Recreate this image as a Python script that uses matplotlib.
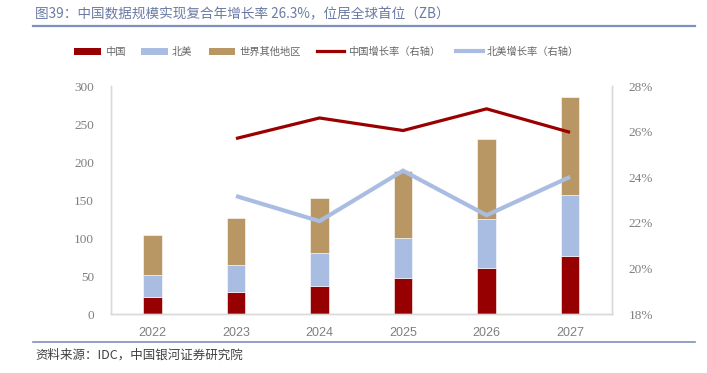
import matplotlib
matplotlib.use("Agg")
import matplotlib.pyplot as plt
from matplotlib.lines import Line2D
from matplotlib.patches import Patch
import numpy as np

years = ["2022", "2023", "2024", "2025", "2026", "2027"]
china = [23.1, 29.7, 37.6, 47.7, 60.4, 76.2]
north_america = [28.5, 35.1, 42.9, 53.0, 64.8, 80.6]
rest_world = [52.2, 61.7, 72.8, 88.0, 105.6, 128.3]
china_growth = [None, 25.7, 26.6, 26.05, 27.0, 25.97]
na_growth = [None, 23.18, 22.08, 24.29, 22.34, 24.02]

title = "图39：中国数据规模实现复合年增长率 26.3%，位居全球首位（ZB）"
source = "资料来源：IDC，中国银河证券研究院"
legend_labels = ["中国", "北美", "世界其他地区", "中国增长率（右轴）", "北美增长率（右轴）"]

plt.rcParams['font.family'] = ['Noto Sans CJK SC', 'DejaVu Sans']

c_red = "#960000"
c_blue = "#a9bde3"
c_tan = "#b99765"
c_line_red = "#9a0000"
c_grid = "#d9d9d9"
c_tick = "#7f7f7f"

fig = plt.figure(figsize=(7.07, 3.73), dpi=100)
ax = fig.add_axes([0.1566, 0.1574, 0.8654 - 0.1566, 0.7694 - 0.1574])
ax2 = ax.twinx()

x = np.arange(len(years))
w = 0.22
b1 = np.array(china)
b2 = np.array(north_america)
b3 = np.array(rest_world)
ax.bar(x, b1, w, color=c_red, edgecolor="white", linewidth=0.4, zorder=2)
ax.bar(x, b2, w, bottom=b1, color=c_blue, edgecolor="white", linewidth=0.4, zorder=2)
ax.bar(x, b3, w, bottom=b1 + b2, color=c_tan, edgecolor="white", linewidth=0.4, zorder=2)

cg = np.array([np.nan if v is None else v for v in china_growth], dtype=float)
ng = np.array([np.nan if v is None else v for v in na_growth], dtype=float)
ax2.plot(x, cg, color=c_line_red, lw=2.3, solid_capstyle="butt", solid_joinstyle="miter")
ax2.plot(x, ng, color=c_blue, lw=3.0, solid_capstyle="butt", solid_joinstyle="miter")

ax.set_xlim(-0.5, len(years) - 0.5)
ax.set_ylim(0, 300)
ax.set_yticks(np.arange(0, 301, 50))
ax2.set_ylim(18, 28)
ax2.set_yticks(np.arange(18, 29, 2))
ax2.set_yticklabels([f"{v}%" for v in range(18, 29, 2)])
ax.set_xticks(x)
ax.set_xticklabels(years)

for a in (ax, ax2):
    a.spines["top"].set_visible(False)
    for s in ("left", "right", "bottom"):
        a.spines[s].set_color(c_grid)
        a.spines[s].set_linewidth(1.0)
    a.tick_params(length=0, colors=c_tick)

ax.tick_params(axis="y", pad=12, labelsize=9.5)
ax2.tick_params(axis="y", pad=12, labelsize=9.5)
ax.tick_params(axis="x", pad=9, labelsize=9)
for lab in ax.get_yticklabels() + ax2.get_yticklabels():
    lab.set_fontfamily("Liberation Serif")
    lab.set_color(c_tick)
for lab in ax.get_xticklabels():
    lab.set_fontfamily("Liberation Sans")
    lab.set_color(c_tick)

ax.set_zorder(ax2.get_zorder() - 1)
ax2.patch.set_visible(False)

handles = [
    Patch(facecolor=c_red),
    Patch(facecolor=c_blue),
    Patch(facecolor=c_tan),
    Line2D([0], [0], color=c_line_red, lw=2.3),
    Line2D([0], [0], color=c_blue, lw=3.0),
]
leg = fig.legend(handles, legend_labels, loc="center left", bbox_to_anchor=(74 / 707, 1 - 52 / 373),
                 ncol=5, frameon=False, fontsize=7.4, handlelength=2.6, handleheight=0.75,
                 columnspacing=1.55, handletextpad=0.4, labelcolor="#666666",
                 borderaxespad=0, borderpad=0)

# title and rules
fig.text(35 / 707, 1 - 14 / 373, title, fontsize=9.8, color="#6a7aa3", va="center", ha="left")
fig.add_artist(Line2D([33 / 707, 695 / 707], [1 - 25.5 / 373, 1 - 25.5 / 373],
                      color="#7d90bf", lw=1.6, transform=fig.transFigure))
fig.add_artist(Line2D([33 / 707, 695 / 707], [1 - 341.5 / 373, 1 - 341.5 / 373],
                      color="#7d90bf", lw=1.2, transform=fig.transFigure))
fig.text(35 / 707, 1 - 355 / 373, source, fontsize=9, color="#404040", va="center",
         ha="left", style="italic")

fig.savefig("out.png", dpi=100)
